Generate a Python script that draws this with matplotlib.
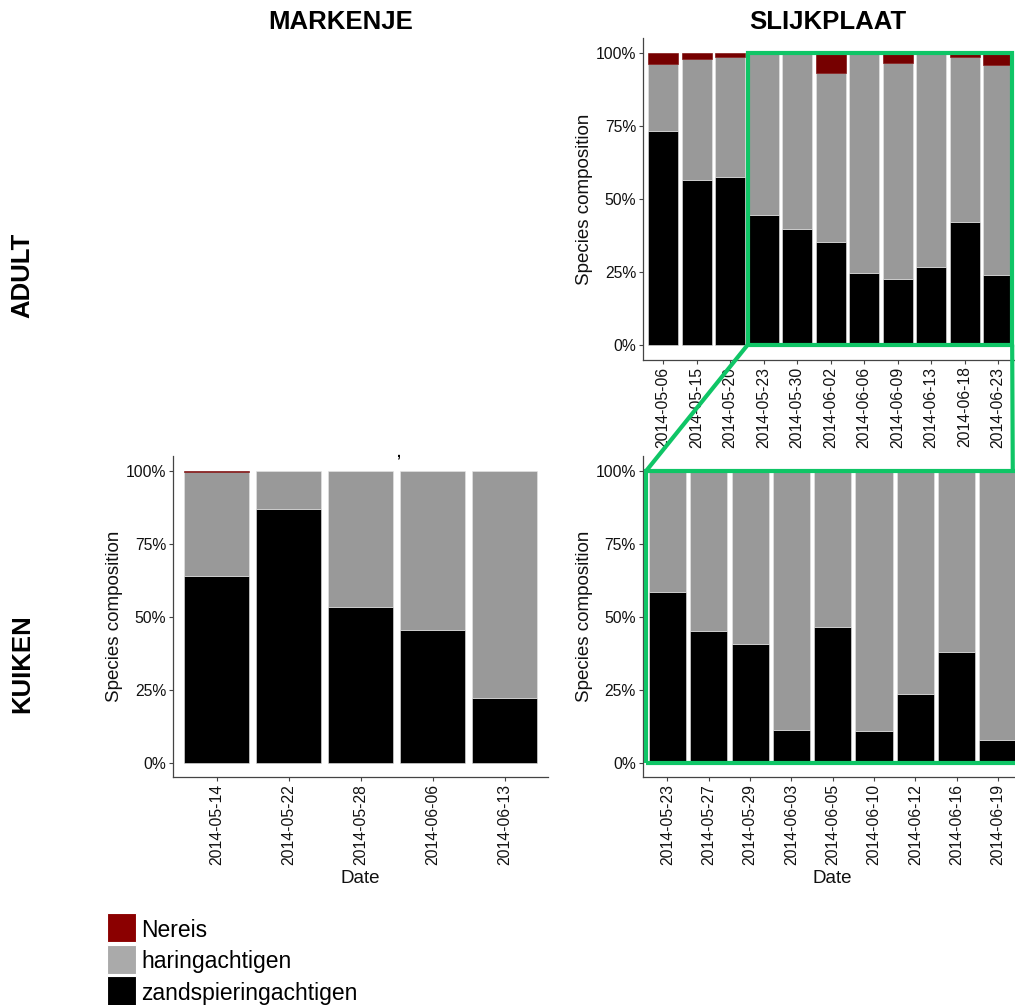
import matplotlib

matplotlib.use("Agg")
import matplotlib.pyplot as plt
from matplotlib.patches import Rectangle, ConnectionPatch
from matplotlib.ticker import FixedLocator, FuncFormatter

plt.rcParams["font.family"] = ["Liberation Sans", "DejaVu Sans"]

# species shares (%) per sampling date
species = ["zandspieringachtigen", "haringachtigen", "Nereis"]

slijk_adult_dates = ["2014-05-06", "2014-05-15", "2014-05-20", "2014-05-23",
                     "2014-05-30", "2014-06-02", "2014-06-06", "2014-06-09",
                     "2014-06-13", "2014-06-18", "2014-06-23"]
slijk_adult_zand = [73.4, 56.4, 57.6, 44.5, 39.8, 35.3, 24.5, 22.5, 26.6, 42.2, 23.9]
slijk_adult_haring = [22.8, 41.4, 40.9, 55.5, 60.2, 58.0, 75.5, 74.1, 73.4, 56.3, 72.0]
slijk_adult_nereis = [3.8, 2.2, 1.5, 0.0, 0.0, 6.7, 0.0, 3.4, 0.0, 1.5, 4.1]

mark_kuiken_dates = ["2014-05-14", "2014-05-22", "2014-05-28", "2014-06-06", "2014-06-13"]
mark_kuiken_zand = [63.8, 87.0, 53.3, 45.3, 22.1]
mark_kuiken_haring = [35.6, 13.0, 46.7, 54.7, 77.9]
mark_kuiken_nereis = [0.6, 0.0, 0.0, 0.0, 0.0]

slijk_kuiken_dates = ["2014-05-23", "2014-05-27", "2014-05-29", "2014-06-03", "2014-06-05",
                      "2014-06-10", "2014-06-12", "2014-06-16", "2014-06-19"]
slijk_kuiken_zand = [58.6, 45.1, 40.5, 11.1, 46.6, 10.8, 23.4, 37.8, 7.8]
slijk_kuiken_haring = [41.4, 54.9, 59.5, 88.9, 53.4, 89.2, 76.6, 62.2, 92.2]
slijk_kuiken_nereis = [0.0] * 9

BAR_COLORS = {"zandspieringachtigen": "#000000", "haringachtigen": "#999999", "Nereis": "#760000"}
EDGE_COLORS = {"zandspieringachtigen": "#e6e6e6", "haringachtigen": "#e6e6e6", "Nereis": "#760000"}
KEY_COLORS = {"zandspieringachtigen": "#000000", "haringachtigen": "#aaaaaa", "Nereis": "#8b0000"}
GREEN = "#0fc566"
AXIS_COL = "#444444"
TEXT_COL = "#111111"

W, H = 1015, 1005
fig = plt.figure(figsize=(W / 100, H / 100), dpi=100)


def px_box(left, top, right, bottom):
    return [left / W, 1 - bottom / H, (right - left) / W, (bottom - top) / H]


def stacked_panel(rect, dates, zand, haring, nereis, xlabel=True):
    ax = fig.add_axes(px_box(*rect))
    x = list(range(len(dates)))
    bottom = [0.0] * len(dates)
    for name, vals in zip(species, [zand, haring, nereis]):
        # empty segments are left out so they leave no outline behind
        keep = [i for i, v in enumerate(vals) if v > 0]
        ax.bar([x[i] for i in keep], [vals[i] for i in keep],
               bottom=[bottom[i] for i in keep], width=0.9,
               color=BAR_COLORS[name], edgecolor=EDGE_COLORS[name], linewidth=0.4)
        bottom = [b + v for b, v in zip(bottom, vals)]
    ax.set_xlim(-0.6, len(dates) - 0.4)
    ax.set_ylim(-5, 105)
    ax.set_xticks(x)
    ax.set_xticklabels(dates, rotation=90, fontsize=11.3, color=TEXT_COL)
    ax.yaxis.set_major_locator(FixedLocator([0, 25, 50, 75, 100]))
    ax.yaxis.set_major_formatter(FuncFormatter(lambda v, _: f"{v:.0f}%"))
    ax.tick_params(axis="y", labelsize=11.3, labelcolor=TEXT_COL)
    ax.tick_params(length=3, width=0.8, color=AXIS_COL, pad=2)
    for side in ["top", "right"]:
        ax.spines[side].set_visible(False)
    for side in ["left", "bottom"]:
        ax.spines[side].set_color(AXIS_COL)
        ax.spines[side].set_linewidth(0.9)
    ax.set_ylabel("Species composition", fontsize=13.5, color=TEXT_COL, labelpad=2)
    if xlabel:
        ax.set_xlabel("Date", fontsize=13.5, color=TEXT_COL, labelpad=3)
    return ax


ax_adult = stacked_panel((643, 38.4, 1018.2, 359.6), slijk_adult_dates,
                         slijk_adult_zand, slijk_adult_haring, slijk_adult_nereis,
                         xlabel=False)
ax_mark = stacked_panel((173.3, 456, 547.7, 777.3), mark_kuiken_dates,
                        mark_kuiken_zand, mark_kuiken_haring, mark_kuiken_nereis)
ax_kuiken = stacked_panel((642.7, 456, 1022.7, 777.3), slijk_kuiken_dates,
                          slijk_kuiken_zand, slijk_kuiken_haring, slijk_kuiken_nereis)

# zoom highlight: shared dates between the two slijkplaat panels
ax_adult.add_patch(Rectangle((2.52, 0), 10.42 - 2.52, 100, fill=False,
                             edgecolor=GREEN, linewidth=3, clip_on=False, zorder=5))
ax_kuiken.add_patch(Rectangle((-0.51, 0), 9.4, 100, fill=False,
                              edgecolor=GREEN, linewidth=3, clip_on=False, zorder=5))
for xa, xb in [(2.52, -0.51), (10.42, 8.36)]:
    con = ConnectionPatch(xyA=(xa, 0), coordsA=ax_adult.transData,
                          xyB=(xb, 100), coordsB=ax_kuiken.transData,
                          color=GREEN, linewidth=3, zorder=5)
    fig.add_artist(con)

# row / column headers
head = dict(fontsize=18.5, fontweight="bold", color="black", ha="center", va="center")
fig.text(341 / W, 1 - 22 / H, "MARKENJE", **head)
fig.text(828 / W, 1 - 22 / H, "SLIJKPLAAT", **head)
fig.text(22 / W, 1 - 275 / H, "ADULT", rotation=90, **head)
fig.text(22 / W, 1 - 664 / H, "KUIKEN", rotation=90, **head)
fig.text(398 / W, 1 - 452 / H, ",", fontsize=10, fontweight="bold", ha="center", va="center")

# legend
key_rows = [("Nereis", 913, 942, 936.5), ("haringachtigen", 945, 974, 968),
            ("zandspieringachtigen", 976, 1006, 1000)]
for name, top, bot, base in key_rows:
    fig.add_artist(Rectangle((107 / W, 1 - bot / H), 29 / W, (bot - top) / H,
                             transform=fig.transFigure, facecolor=KEY_COLORS[name],
                             edgecolor="white", linewidth=0.8))
    fig.text(141 / W, 1 - base / H, name, fontsize=16.5, color="black",
             ha="left", va="baseline")

fig.savefig("out.png", dpi=100)
